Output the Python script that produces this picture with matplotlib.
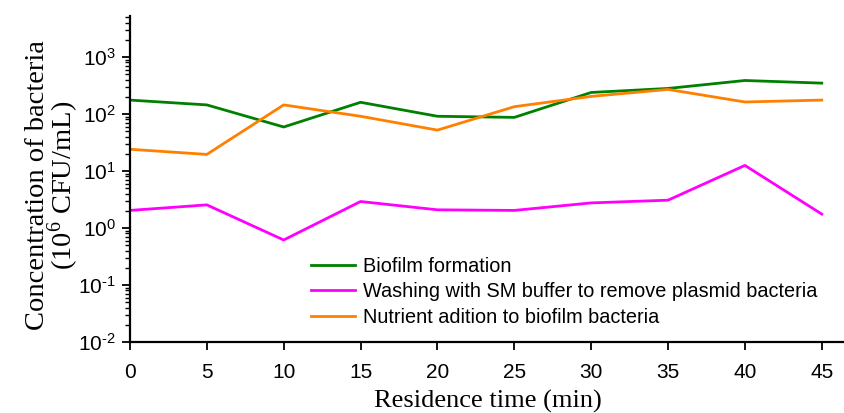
import matplotlib
matplotlib.use("Agg")
from matplotlib import pyplot as plt
from matplotlib.ticker import LogLocator, NullFormatter, FuncFormatter
import numpy as np

# residence time (min) and bacteria counts (10^6 CFU/mL)
time_min = [0, 5, 10, 15, 20, 25, 30, 35, 40, 45]
biofilm = [175, 144, 59, 160, 91, 87, 238, 280, 386, 347]
washing = [2.03, 2.54, 0.615, 2.91, 2.08, 2.03, 2.75, 3.07, 12.5, 1.75]
nutrient = [24, 19.5, 144, 91, 52, 134, 203, 269, 162, 175]

labels = ["Biofilm formation",
          "Washing with SM buffer to remove plasmid bacteria",
          "Nutrient adition to biofilm bacteria"]
colors = ["#008000", "#ff00ff", "#ff8000"]

plt.rcParams['font.family'] = ['Liberation Sans', 'DejaVu Sans']
plt.rcParams['mathtext.fontset'] = 'custom'
plt.rcParams['mathtext.rm'] = 'Liberation Sans'
plt.rcParams['mathtext.it'] = 'Liberation Sans:italic'
plt.rcParams['mathtext.bf'] = 'Liberation Sans:bold'


def pow10(v, pos):
    # plain hyphen in the exponent, as in the usual Origin-style labels
    e = int(round(np.log10(v)))
    return "10$^{\\text{%d}}$" % e


fig = plt.figure(figsize=(8.45, 4.13), dpi=100)
ax = fig.add_axes([0.1538, 0.172, 0.846, 0.789])

for series, lab, col in zip([biofilm, washing, nutrient], labels, colors):
    ax.plot(time_min, series, color=col, lw=2.0, label=lab)

ax.set_yscale('log')
ax.set_ylim(0.01, 5200)
ax.set_xlim(0, 46.5)
ax.set_xticks(np.arange(0, 46, 5))

ax.yaxis.set_major_locator(LogLocator(base=10, numticks=10))
ax.yaxis.set_major_formatter(FuncFormatter(pow10))
ax.yaxis.set_minor_locator(LogLocator(base=10, subs=np.arange(2, 10), numticks=20))
ax.yaxis.set_minor_formatter(NullFormatter())

for side in ['top', 'right']:
    ax.spines[side].set_visible(False)
for side in ['left', 'bottom']:
    ax.spines[side].set_linewidth(1.6)

ax.tick_params(axis='both', which='major', direction='out', length=6,
               width=1.3, labelsize=15, pad=4)
ax.tick_params(axis='x', which='major', pad=9)
ax.tick_params(axis='y', which='minor', direction='out', length=3.5, width=1.0)

ax.set_xlabel("Residence time (min)", family='Liberation Serif', fontsize=19,
              labelpad=6)
ax.set_ylabel("Concentration of bacteria\n(10$^{\\mathdefault{6}}$ CFU/mL)",
              family='Liberation Serif', fontsize=20.5, linespacing=0.82)
ax.yaxis.set_label_coords(-0.068, 0.48)

ax.legend(loc='upper left', bbox_to_anchor=(0.368, 0.378),
          bbox_transform=fig.transFigure, frameon=False, fontsize=14.3,
          handlelength=2.2, handletextpad=0.4, labelspacing=0.32,
          borderpad=0, borderaxespad=0)

fig.savefig("out.png", dpi=100)
